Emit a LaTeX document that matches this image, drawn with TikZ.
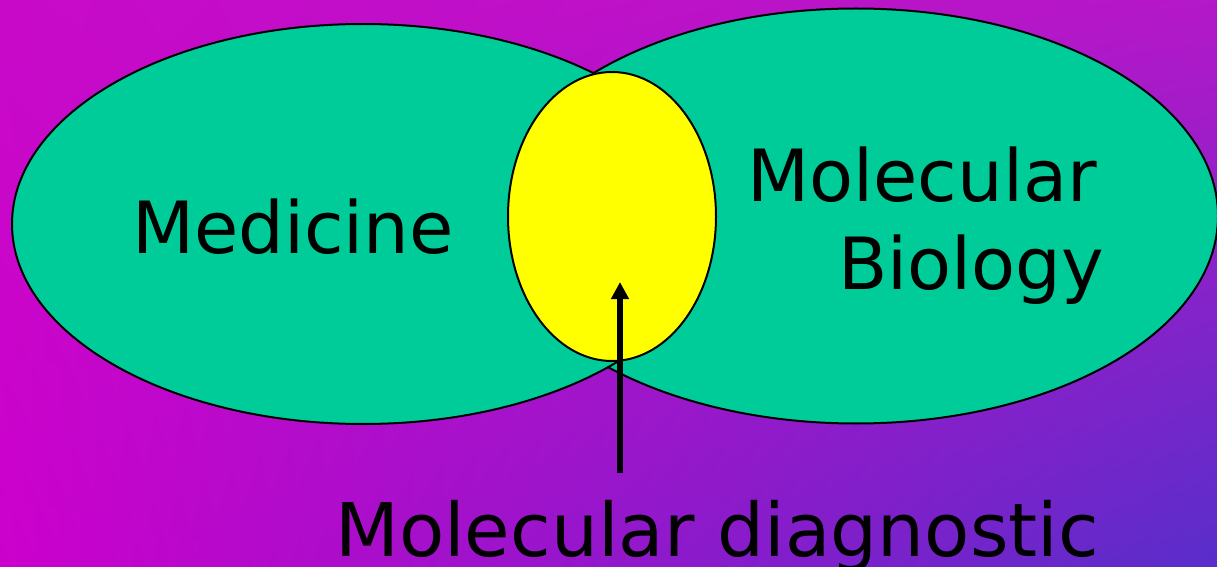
\documentclass[tikz,border=0pt]{standalone}
\usepackage{fontspec}
\setmainfont{DejaVu Sans}
\usetikzlibrary{arrows.meta, shapes.geometric, shadings}

\definecolor{bgmag}{RGB}{204,0,204}
\definecolor{bgcorner}{RGB}{200,10,200}
\definecolor{bgtopright}{RGB}{180,24,200}
\definecolor{bgblue}{RGB}{88,46,202}
\definecolor{setgreen}{RGB}{0,204,153}
\definecolor{overlapyellow}{RGB}{255,255,0}

\begin{document}
\begin{tikzpicture}[x=0.5pt, y=-0.5pt, >=Stealth,
    setblob/.style={ellipse, draw=black, line width=1pt, inner sep=0pt, outer sep=0pt},
    biglabel/.style={font=\fontsize{36}{44}\selectfont, inner sep=0pt, anchor=base}]

  % --- frame: 1217 x 567 px, one unit = one pixel ---
  \useasboundingbox (0,0) rectangle (1217,567);
  \clip (0,0) rectangle (1217,567);
  \shade[upper left=bgcorner, upper right=bgtopright,
         lower left=bgmag, lower right=bgblue] (0,0) rectangle (1217,567);

  % --- the two fields (right one under the left one) ---
  \node[setblob, fill=setgreen, minimum width=362pt, minimum height=207.5pt] (biology) at (856,216) {};
  \node[setblob, fill=setgreen, minimum width=351pt, minimum height=200pt] (medicine) at (363,224) {};
  % overlap
  \node[setblob, fill=overlapyellow, minimum width=104pt, minimum height=144.5pt] (overlap) at (612,216.5) {};

  % --- labels ---
  \node[biglabel] (medtext) at (293,254) {Medicine};
  \node[biglabel] (moltext) at (922,202) {Molecular};
  \node[biglabel] (biotext) at (971,290) {Biology};
  \node[biglabel, font=\fontsize{37}{44}\selectfont] (diagtext) at (717,556) {Molecular diagnostic};

  % pointer from the caption into the overlap
  \coordinate (ptail) at (620,473);
  \coordinate (ptip) at (620,282);
  \draw[-{Triangle[length=8.5pt, width=8.5pt]}, line width=3pt] (ptail) -- (ptip);

\end{tikzpicture}
\end{document}
